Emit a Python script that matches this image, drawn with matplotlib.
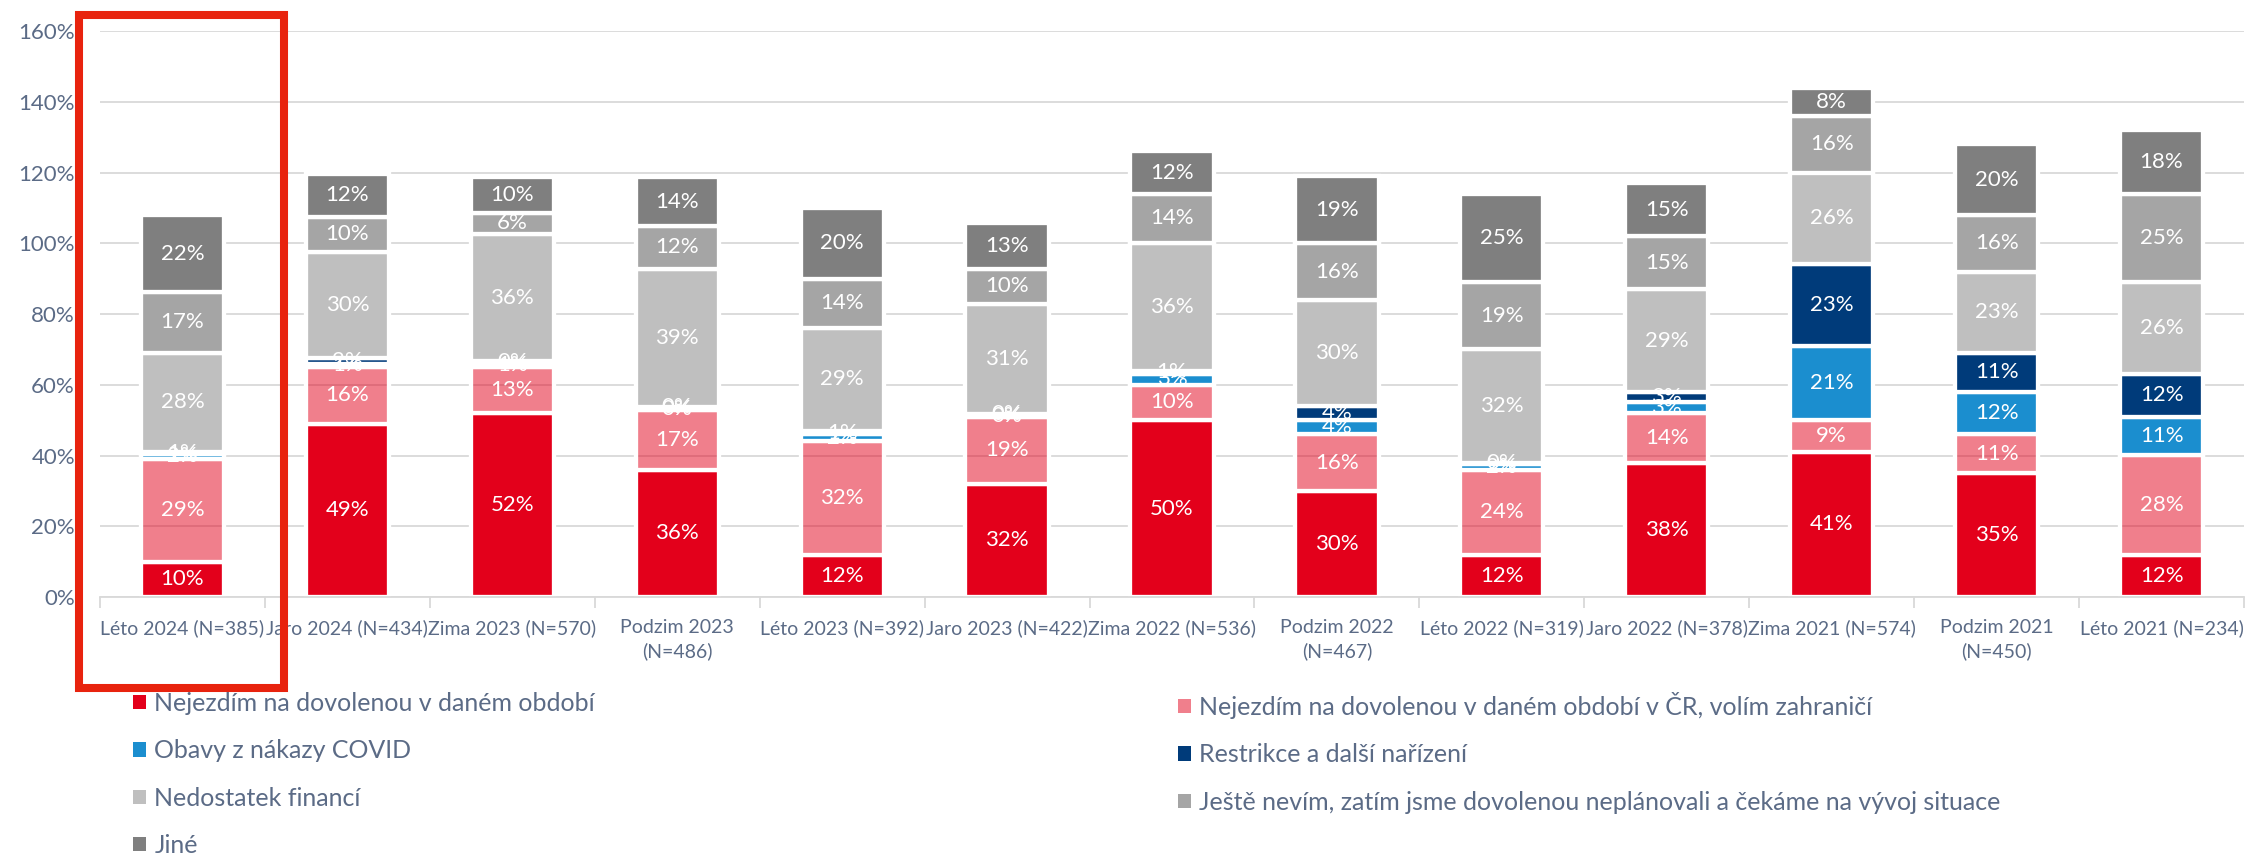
import matplotlib
matplotlib.use('Agg')
import matplotlib.pyplot as plt
import numpy as np
from matplotlib.patches import Patch, Rectangle
from matplotlib.ticker import FixedLocator, FuncFormatter

plt.rcParams['font.family'] = ['Lato', 'DejaVu Sans']

categories = ['Léto 2024 (N=385)', 'Jaro 2024 (N=434)', 'Zima 2023 (N=570)', 'Podzim 2023\n(N=486)',
              'Léto 2023 (N=392)', 'Jaro 2023 (N=422)', 'Zima 2022 (N=536)', 'Podzim 2022\n(N=467)',
              'Léto 2022 (N=319)', 'Jaro 2022 (N=378)', 'Zima 2021 (N=574)', 'Podzim 2021\n(N=450)',
              'Léto 2021 (N=234)']

series_names = ['Nejezdím na dovolenou v daném období',
                'Nejezdím na dovolenou v daném období v ČR, volím zahraničí',
                'Obavy z nákazy COVID',
                'Restrikce a další nařízení',
                'Nedostatek financí',
                'Ještě nevím, zatím jsme dovolenou neplánovali a čekáme na vývoj situace',
                'Jiné']

nejezdim = [10, 49, 52, 36, 12, 32, 50, 30, 12, 38, 41, 35, 12]
zahranici = [29, 16, 13, 17, 32, 19, 10, 16, 24, 14, 9, 11, 28]
covid = [1.5, 1.0, 1.2, 0.4, 2, 0.4, 3, 4, 1.6, 3, 21, 12, 11]
restrikce = [0.6, 1.5, 0.4, 0.4, 1, 0.4, 1, 4, 0.4, 3, 23, 11, 12]
financ = [28, 30, 36, 39, 29, 31, 36, 30, 32, 29, 26, 23, 26]
nevim = [17, 10, 6, 12, 14, 10, 14, 16, 19, 15, 16, 16, 25]
jine = [22, 12, 10, 14, 20, 13, 12, 19, 25, 15, 8, 20, 18]

series = [nejezdim, zahranici, covid, restrikce, financ, nevim, jine]
colors = ['#E3001B', (0.89, 0.0, 0.106, 0.5), '#1B8ECF', '#003B7A', '#BFBFBF', '#A5A5A5', '#7F7F7F']

text_color = '#5B6B86'
grid_color = '#D9D9D9'

W, H = 2247, 855
fig = plt.figure(figsize=(W / 100, H / 100), dpi=100)
ax = fig.add_axes([100 / W, 1 - 597 / H, 2144 / W, (597 - 31) / H])

x = np.arange(len(categories))
bottom = np.zeros(len(categories))
bar_w = 0.505
for vals, col in zip(series, colors):
    vals = np.array(vals, dtype=float)
    ax.bar(x, vals, bar_w, bottom=bottom, color=col, edgecolor='white', linewidth=3.1, zorder=2)
    for xi, b, v in zip(x, bottom, vals):
        ax.text(xi, b + v / 2, f'{round(v):.0f}%', ha='center', va='center', color='white',
                fontsize=16, zorder=3)
    bottom += vals

ax.set_xlim(-0.5, len(categories) - 0.5)
ax.set_ylim(0, 160)
ax.yaxis.set_major_locator(FixedLocator(np.arange(0, 161, 20)))
ax.yaxis.set_major_formatter(FuncFormatter(lambda v, p: f'{v:.0f}%'))
ax.grid(axis='y', color=grid_color, linewidth=1.3, zorder=0)
ax.set_axisbelow(True)

ax.set_xticks(x)
ax.set_xticklabels(categories, fontsize=14, color=text_color, linespacing=1.4)
ax.set_xticks(np.arange(-0.5, len(categories), 1), minor=True)
ax.tick_params(axis='x', which='major', length=0, pad=16)
ax.tick_params(axis='x', which='minor', length=8, color=grid_color, width=1.3)
ax.tick_params(axis='y', length=0, pad=18, labelsize=16, labelcolor=text_color)

for s in ['top', 'right', 'left']:
    ax.spines[s].set_visible(False)
ax.spines['bottom'].set_color(grid_color)
ax.spines['bottom'].set_linewidth(1.3)

handles = [Patch(facecolor=c, edgecolor='none') for c in colors]
left_idx = [0, 2, 4, 6]
right_idx = [1, 3, 5]
common = dict(loc='upper left', frameon=False, fontsize=18, handlelength=0.5, handleheight=0.5,
              handletextpad=0.35, labelspacing=0.97, borderpad=0, borderaxespad=0,
              labelcolor=text_color)
leg1 = fig.legend([handles[i] for i in left_idx], [series_names[i] for i in left_idx],
                  bbox_to_anchor=(133 / W, 1 - 692 / H), **common)
leg2 = fig.legend([handles[i] for i in right_idx], [series_names[i] for i in right_idx],
                  bbox_to_anchor=(1178 / W, 1 - 692 / H), **common)

rect = Rectangle((79 / W, 1 - 688 / H), (284 - 79) / W, (688 - 15) / H, transform=fig.transFigure,
                 fill=False, edgecolor='#E8230E', linewidth=5.8, clip_on=False)
fig.add_artist(rect)

fig.savefig('out.png', dpi=100)
